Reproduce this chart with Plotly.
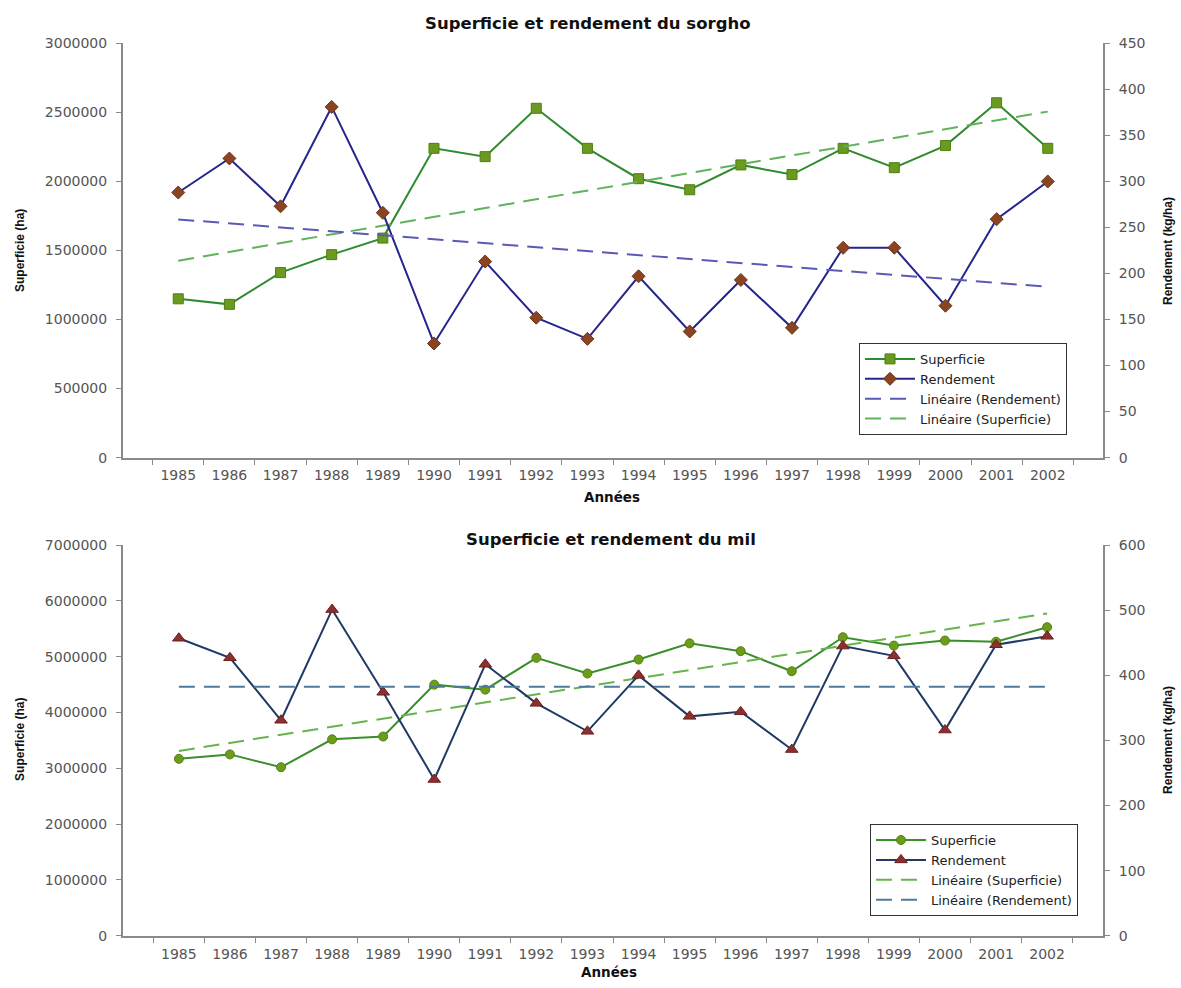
import numpy as np
import plotly.graph_objects as go

# Années de la série
annees = [str(a) for a in range(1985, 2003)]

# Sorgho : superficie (ha) et rendement (kg/ha)
sorgho_superficie = [1150000, 1110000, 1340000, 1470000, 1590000, 2240000,
                     2180000, 2530000, 2240000, 2020000, 1940000, 2120000,
                     2050000, 2240000, 2100000, 2260000, 2570000, 2240000]
sorgho_rendement = [288, 325, 273, 381, 266, 124, 213, 152, 129,
                    197, 137, 193, 141, 228, 228, 165, 259, 300]

# Mil : superficie (ha) et rendement (kg/ha)
mil_superficie = [3170000, 3250000, 3020000, 3520000, 3570000, 4500000,
                  4410000, 4980000, 4700000, 4950000, 5240000, 5100000,
                  4740000, 5350000, 5200000, 5290000, 5270000, 5530000]
mil_rendement = [457, 427, 331, 501, 374, 240, 417, 357, 314,
                 400, 337, 344, 286, 445, 430, 316, 447, 460]

# Graduations des axes
sorgho_sup_ticks = [0, 500000, 1000000, 1500000, 2000000, 2500000, 3000000]
sorgho_rdt_ticks = [0, 50, 100, 150, 200, 250, 300, 350, 400, 450]
mil_sup_ticks = [0, 1000000, 2000000, 3000000, 4000000, 5000000, 6000000, 7000000]
mil_rdt_ticks = [0, 100, 200, 300, 400, 500, 600]

TICK_FONT = dict(family="DejaVu Sans", size=14, color="#555555")
LEG_FONT = dict(family="DejaVu Sans", size=13, color="#222222")
AXIS_GREY = "#8a8a8a"
DASH = "16px,9px"


def tendance(valeurs):
    """Droite de régression linéaire (courbe de tendance)."""
    idx = np.arange(len(valeurs))
    pente, origine = np.polyfit(idx, np.asarray(valeurs, dtype=float), 1)
    return list(origine + pente * idx)


fig = go.Figure()

# ---------- Sorgho ----------
fig.add_trace(go.Scatter(
    x=annees, y=sorgho_superficie, name="Superficie", mode="lines+markers",
    line=dict(color="#2e8b2e", width=2),
    marker=dict(symbol="square", size=10, color="#6a9a1f",
                line=dict(color="#4f7f12", width=1)),
    xaxis="x", yaxis="y", legend="legend"))
fig.add_trace(go.Scatter(
    x=annees, y=sorgho_rendement, name="Rendement", mode="lines+markers",
    line=dict(color="#26268f", width=2),
    marker=dict(symbol="diamond", size=10, color="#8b4422",
                line=dict(color="#6e3418", width=1)),
    xaxis="x", yaxis="y2", legend="legend"))
fig.add_trace(go.Scatter(
    x=annees, y=tendance(sorgho_rendement), name="Linéaire (Rendement)",
    mode="lines", line=dict(color="#5a5ab4", width=2, dash=DASH),
    xaxis="x", yaxis="y2", legend="legend"))
fig.add_trace(go.Scatter(
    x=annees, y=tendance(sorgho_superficie), name="Linéaire (Superficie)",
    mode="lines", line=dict(color="#5fb35a", width=2, dash=DASH),
    xaxis="x", yaxis="y", legend="legend"))

# ---------- Mil ----------
fig.add_trace(go.Scatter(
    x=annees, y=mil_superficie, name="Superficie", mode="lines+markers",
    line=dict(color="#3a8e2c", width=2),
    marker=dict(symbol="circle", size=9, color="#6b9c1c",
                line=dict(color="#55820f", width=1)),
    xaxis="x2", yaxis="y3", legend="legend2"))
fig.add_trace(go.Scatter(
    x=annees, y=mil_rendement, name="Rendement", mode="lines+markers",
    line=dict(color="#203a66", width=2),
    marker=dict(symbol="triangle-up", size=11, color="#8b2f2f",
                line=dict(color="#6e2020", width=1)),
    xaxis="x2", yaxis="y4", legend="legend2"))
fig.add_trace(go.Scatter(
    x=annees, y=tendance(mil_superficie), name="Linéaire (Superficie)",
    mode="lines", line=dict(color="#66b44c", width=2, dash=DASH),
    xaxis="x2", yaxis="y3", legend="legend2"))
fig.add_trace(go.Scatter(
    x=annees, y=tendance(mil_rendement), name="Linéaire (Rendement)",
    mode="lines", line=dict(color="#4f7a9c", width=2, dash=DASH),
    xaxis="x2", yaxis="y4", legend="legend2"))

W, H = 1181, 988
xdom = [123 / W, 1103 / W]
top_dom = [1 - 457 / H, 1 - 36 / H]
bot_dom = [1 - 943 / H, 1 - 546 / H]

xcommon = dict(type="category", domain=xdom, showline=True, linecolor=AXIS_GREY,
               linewidth=2, ticks="outside", tickson="boundaries", ticklen=5,
               tickcolor=AXIS_GREY, tickfont=TICK_FONT, showgrid=False,
               zeroline=False, ticklabelstandoff=4)
ycommon = dict(showline=True, linecolor=AXIS_GREY, linewidth=2, ticks="outside",
               ticklen=5, tickcolor=AXIS_GREY, tickfont=TICK_FONT,
               showgrid=False, zeroline=False, tickformat="d",
               ticklabelstandoff=6)

legcommon = dict(xanchor="right", yanchor="bottom", bgcolor="white",
                 bordercolor="#333333", borderwidth=1, font=LEG_FONT,
                 tracegroupgap=0, itemwidth=50)

fig.update_layout(
    width=W, height=H,
    margin=dict(l=0, r=0, t=0, b=0),
    paper_bgcolor="white", plot_bgcolor="white",
    showlegend=True,
    xaxis=dict(xcommon, anchor="y"),
    yaxis=dict(ycommon, domain=top_dom, anchor="x", range=[0, 3000000],
               tickvals=sorgho_sup_ticks),
    yaxis2=dict(ycommon, overlaying="y", side="right", anchor="x",
                range=[0, 450], tickvals=sorgho_rdt_ticks),
    xaxis2=dict(xcommon, anchor="y3"),
    yaxis3=dict(ycommon, domain=bot_dom, anchor="x2", range=[0, 7000000],
                tickvals=mil_sup_ticks),
    yaxis4=dict(ycommon, overlaying="y3", side="right", anchor="x2",
                range=[0, 600], tickvals=mil_rdt_ticks),
    legend=dict(legcommon, x=1067 / W, y=1 - 434 / H),
    legend2=dict(legcommon, x=1078 / W, y=1 - 923 / H),
)

TITLE_FONT = dict(family="DejaVu Sans", size=16.5, color="#111111")
LABEL_FONT = dict(family="DejaVu Sans", size=13.5, color="#111111")
AXT_FONT = dict(family="Liberation Sans", size=12, color="#111111")


def texte(txt, x, y, font, angle=0):
    fig.add_annotation(text=txt, x=x / W, y=1 - y / H, xref="paper", yref="paper",
                       showarrow=False, font=font, textangle=angle,
                       xanchor="center", yanchor="middle")


texte("<b>Superficie et rendement du sorgho</b>", 588, 16, TITLE_FONT)
texte("<b>Années</b>", 612, 497, LABEL_FONT)
texte("<b>Superficie (ha)</b>", 20, 247, AXT_FONT, -90)
texte("<b>Rendement (kg/ha)</b>", 1168, 247, AXT_FONT, -90)

texte("<b>Superficie et rendement du mil</b>", 611, 540, TITLE_FONT)
texte("<b>Années</b>", 609, 980, LABEL_FONT)
texte("<b>Superficie (ha)</b>", 20, 744, AXT_FONT, -90)
texte("<b>Rendement (kg/ha)</b>", 1168, 744, AXT_FONT, -90)

fig.write_html("out.html")
